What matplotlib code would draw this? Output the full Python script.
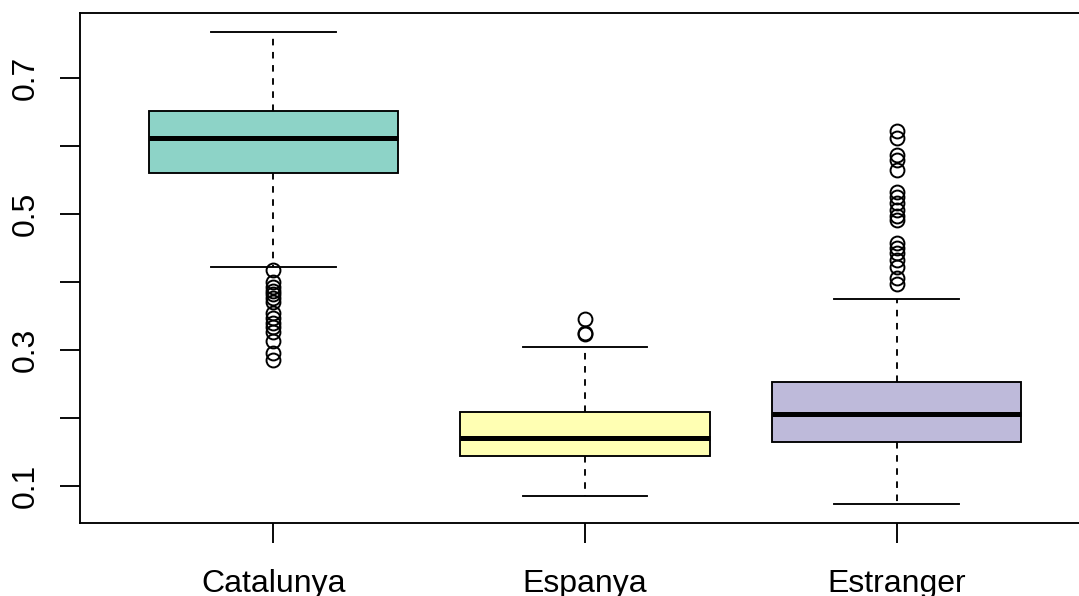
import matplotlib
matplotlib.use("Agg")
import matplotlib.pyplot as plt

plt.rcParams["font.family"] = ["Liberation Sans", "DejaVu Sans"]

# Five-number summaries per origin group, plus the outlying points
groups = ["Catalunya", "Espanya", "Estranger"]
fills = ["#8DD3C7", "#FFFFB3", "#BEBADA"]

whisk_lo = [0.422, 0.085, 0.074]
q1 = [0.560, 0.144, 0.165]
median = [0.611, 0.171, 0.206]
q3 = [0.651, 0.209, 0.253]
whisk_hi = [0.767, 0.304, 0.375]

out_catalunya = [0.417, 0.400, 0.392, 0.387, 0.382, 0.376, 0.370, 0.354,
                 0.347, 0.340, 0.334, 0.326, 0.313, 0.296, 0.285]
out_espanya = [0.345, 0.325, 0.323]
out_estranger = [0.622, 0.611, 0.586, 0.579, 0.564, 0.532, 0.525, 0.516,
                 0.506, 0.497, 0.491, 0.457, 0.450, 0.442, 0.432, 0.422,
                 0.406, 0.397]
outliers = [out_catalunya, out_espanya, out_estranger]

yticks = [0.1, 0.2, 0.3, 0.4, 0.5, 0.6, 0.7]
ytick_labels = ["0.1", "", "0.3", "", "0.5", "", "0.7"]

stats = []
for i, g in enumerate(groups):
    stats.append({"label": g, "whislo": whisk_lo[i], "q1": q1[i],
                  "med": median[i], "q3": q3[i], "whishi": whisk_hi[i],
                  "fliers": outliers[i]})

fig = plt.figure(figsize=(10.79, 5.96), dpi=100)
ax = fig.add_axes([80 / 1079, 73 / 596, 1010 / 1079, 510 / 596])

lw = 1.35
bp = ax.bxp(stats, positions=[1, 2, 3], widths=0.8, patch_artist=True,
            boxprops=dict(edgecolor="black", linewidth=lw),
            medianprops=dict(color="black", linewidth=3.6, solid_capstyle="butt"),
            whiskerprops=dict(color="black", linewidth=lw, linestyle=(0, (3.5, 3.5))),
            capprops=dict(color="black", linewidth=lw),
            capwidths=0.4,
            flierprops=dict(marker="o", markerfacecolor="none",
                            markeredgecolor="black", markersize=10,
                            markeredgewidth=1.4))
for patch, c in zip(bp["boxes"], fills):
    patch.set_facecolor(c)

ax.set_xlim(0.38, 3.62)
ax.set_ylim(0.0456, 0.795)
ax.set_xticks([1, 2, 3])
ax.set_xticklabels(groups)
ax.set_yticks(yticks)
ax.set_yticklabels(ytick_labels, rotation=90, va="center")

ax.tick_params(axis="both", length=14.4, width=lw, labelsize=23)
ax.tick_params(axis="x", pad=19)
ax.tick_params(axis="y", pad=14)
for s in ax.spines.values():
    s.set_linewidth(lw)

fig.savefig("out.png", dpi=100)
